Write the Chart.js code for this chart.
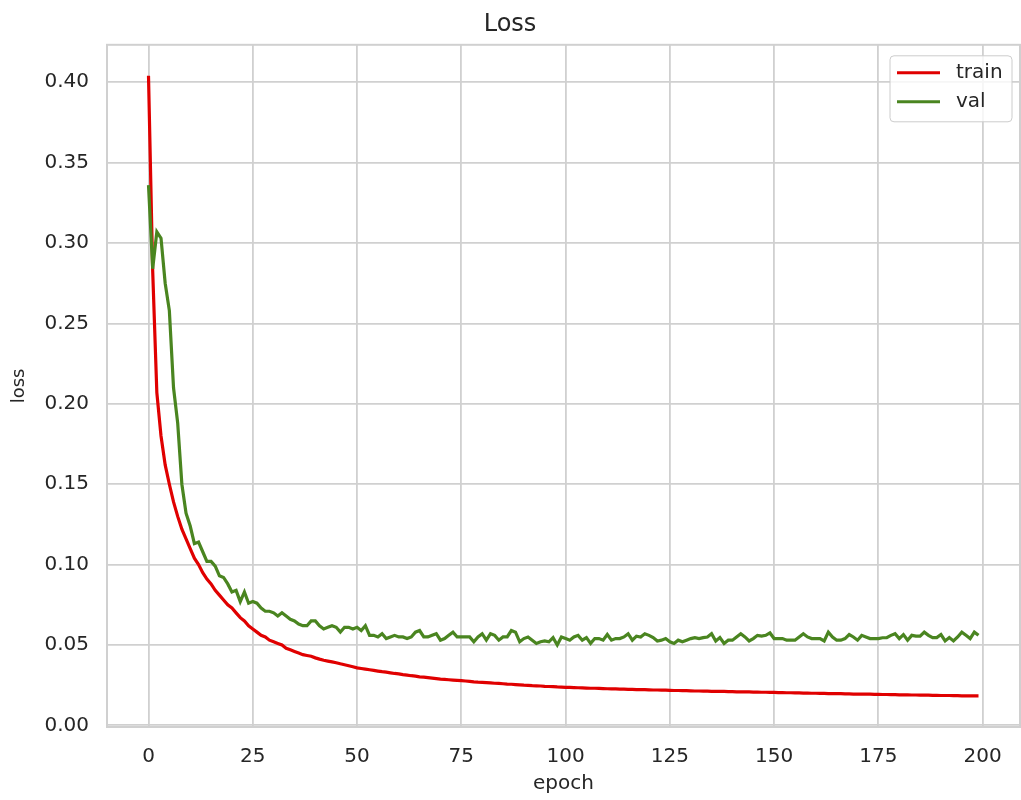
<!DOCTYPE html>
<html>
<head>
<meta charset="utf-8">
<script src="https://cdn.jsdelivr.net/npm/chart.js@4.4.1/dist/chart.umd.min.js"></script>
<style>
  html, body { margin: 0; padding: 0; background: #fff; }
  #wrap { width: 1021px; height: 800px; }
</style>
</head>
<body>
<div id="wrap"><canvas id="lossChart" width="1021" height="800"></canvas></div>
<script>
// Datos
const trainLoss = [
  0.404, 0.283, 0.207, 0.180, 0.162, 0.150, 0.139, 0.130, 0.122, 0.116,
  0.110, 0.104, 0.100, 0.095, 0.091, 0.088, 0.084, 0.081, 0.078, 0.075,
  0.073, 0.070, 0.067, 0.065, 0.062, 0.060, 0.058, 0.056, 0.055, 0.053,
  0.052, 0.051, 0.050, 0.048, 0.047, 0.046, 0.045, 0.044, 0.0435, 0.043,
  0.042, 0.0412, 0.0405, 0.040, 0.0395, 0.039, 0.0383, 0.0377, 0.0371, 0.0365,
  0.0358, 0.0354, 0.0350, 0.0346, 0.0342, 0.0338, 0.0334, 0.0331, 0.0327, 0.0323,
  0.0320, 0.0316, 0.0313, 0.0309, 0.0306, 0.0302, 0.0300, 0.0297, 0.0294, 0.0291,
  0.0288, 0.0286, 0.0284, 0.0282, 0.0280, 0.0278, 0.0276, 0.0274, 0.0271, 0.0269,
  0.0268, 0.0266, 0.0264, 0.0262, 0.0261, 0.0259, 0.0257, 0.0256, 0.0254, 0.0252,
  0.0250, 0.0249, 0.0247, 0.0246, 0.0245, 0.0243, 0.0242, 0.0241, 0.0239, 0.0238,
  0.0237, 0.0236, 0.0235, 0.0234, 0.0233, 0.0232, 0.0231, 0.0231, 0.0230, 0.0229,
  0.0228, 0.0227, 0.0227, 0.0226, 0.0225, 0.0224, 0.0224, 0.0223, 0.0222, 0.0222,
  0.0221, 0.0220, 0.0220, 0.0219, 0.0219, 0.0218, 0.0217, 0.0217, 0.0216, 0.0216,
  0.0215, 0.0214, 0.0214, 0.0213, 0.0213, 0.0212, 0.0212, 0.0211, 0.0211, 0.0210,
  0.0210, 0.0209, 0.0209, 0.0208, 0.0208, 0.0207, 0.0207, 0.0206, 0.0206, 0.0205,
  0.0205, 0.0204, 0.0204, 0.0203, 0.0203, 0.0202, 0.0202, 0.0201, 0.0201, 0.0200,
  0.0200, 0.0199, 0.0199, 0.0198, 0.0198, 0.0197, 0.0197, 0.0196, 0.0196, 0.0195,
  0.0195, 0.0195, 0.0194, 0.0194, 0.0193, 0.0193, 0.0192, 0.0192, 0.0191, 0.0191,
  0.0190, 0.0190, 0.0190, 0.0189, 0.0189, 0.0188, 0.0188, 0.0188, 0.0187, 0.0187,
  0.0186, 0.0186, 0.0186, 0.0185, 0.0185, 0.0184, 0.0184, 0.0184, 0.0183, 0.0183
];

const valLoss = [
  0.336, 0.284, 0.307, 0.303, 0.275, 0.258, 0.210, 0.188, 0.150, 0.132,
  0.124, 0.113, 0.114, 0.108, 0.102, 0.102, 0.099, 0.093, 0.092, 0.088,
  0.083, 0.084, 0.077, 0.083, 0.076, 0.077, 0.076, 0.073, 0.071, 0.071,
  0.070, 0.068, 0.070, 0.068, 0.066, 0.065, 0.063, 0.062, 0.062, 0.065,
  0.065, 0.062, 0.060, 0.061, 0.062, 0.061, 0.058, 0.061, 0.061, 0.060,
  0.061, 0.059, 0.062, 0.056, 0.056, 0.055, 0.057, 0.054, 0.055, 0.056,
  0.055, 0.055, 0.054, 0.055, 0.058, 0.059, 0.055, 0.055, 0.056, 0.057,
  0.053, 0.054, 0.056, 0.058, 0.055, 0.055, 0.055, 0.055, 0.052, 0.055,
  0.057, 0.053, 0.057, 0.056, 0.053, 0.055, 0.055, 0.059, 0.058, 0.052,
  0.054, 0.055, 0.053, 0.051, 0.052, 0.0525, 0.052, 0.0546, 0.050, 0.055,
  0.054, 0.053, 0.055, 0.056, 0.053, 0.0546, 0.051, 0.054, 0.054, 0.053,
  0.0565, 0.053, 0.054, 0.054, 0.055, 0.057, 0.053, 0.0555, 0.055, 0.057,
  0.056, 0.0546, 0.0525, 0.053, 0.054, 0.052, 0.051, 0.053, 0.052, 0.053,
  0.054, 0.0546, 0.054, 0.0546, 0.055, 0.057, 0.0525, 0.0546, 0.051, 0.053,
  0.053, 0.055, 0.057, 0.055, 0.0525, 0.054, 0.056, 0.0555, 0.056, 0.0575,
  0.054, 0.054, 0.054, 0.053, 0.053, 0.053, 0.055, 0.057, 0.055, 0.054,
  0.054, 0.054, 0.0525, 0.058, 0.055, 0.053, 0.053, 0.054, 0.0565, 0.055,
  0.053, 0.056, 0.055, 0.054, 0.054, 0.054, 0.0545, 0.0546, 0.056, 0.057,
  0.054, 0.0565, 0.053, 0.056, 0.0555, 0.0555, 0.058, 0.056, 0.0546, 0.0546,
  0.0565, 0.0525, 0.0546, 0.0525, 0.055, 0.058, 0.056, 0.054, 0.058, 0.056
];

const epochs = trainLoss.map((_, i) => i);
const xTicks = [0, 25, 50, 75, 100, 125, 150, 175, 200];
const yTicks = [0.00, 0.05, 0.10, 0.15, 0.20, 0.25, 0.30, 0.35, 0.40];

const FONT = "'DejaVu Sans', sans-serif";
const TEXT = "#262626";
const GRID = "#d0d0d0";

// Marco gris y leyenda dentro del area
const framePlugin = {
    id: "frame",
    beforeDatasetsDraw(chart) {
        const { ctx, chartArea: a } = chart;
        ctx.save();
        ctx.strokeStyle = GRID;
        ctx.lineWidth = 2;
        ctx.strokeRect(a.left, a.top, a.right - a.left, a.bottom - a.top);
        ctx.restore();
    },
    afterDraw(chart) {
        const { ctx, chartArea: a } = chart;
        const w = 122, h = 66;
        const x = a.right - 8 - w, y = a.top + 11;
        ctx.save();
        ctx.beginPath();
        ctx.roundRect(x, y, w, h, 4);
        ctx.fillStyle = "rgba(255,255,255,0.8)";
        ctx.fill();
        ctx.strokeStyle = "#cccccc";
        ctx.lineWidth = 1;
        ctx.stroke();
        ctx.font = "20px " + FONT;
        ctx.textBaseline = "middle";
        chart.data.datasets.forEach((ds, i) => {
            const ly = y + 17 + i * 29;
            ctx.strokeStyle = ds.borderColor;
            ctx.lineWidth = 3;
            ctx.beginPath();
            ctx.moveTo(x + 7, ly);
            ctx.lineTo(x + 50, ly);
            ctx.stroke();
            ctx.fillStyle = TEXT;
            ctx.fillText(ds.label, x + 66, ly);
        });
        ctx.restore();
    }
};

const ctx = document.getElementById("lossChart").getContext("2d");
const chart = new Chart(ctx, {
    type: "line",
    data: {
        datasets: [{
            label: "train",
            data: epochs.map(e => ({ x: e, y: trainLoss[e] })),
            borderColor: "#e00000",
            borderWidth: 3.2,
            pointRadius: 0,
            tension: 0,
            order: 1
        }, {
            label: "val",
            data: epochs.map(e => ({ x: e, y: valLoss[e] })),
            borderColor: "#4a8520",
            borderWidth: 3.2,
            pointRadius: 0,
            tension: 0,
            order: 0
        }]
    },
    options: {
        responsive: false,
        animation: false,
        layout: { padding: { left: 0, right: 1, top: 0, bottom: 0 } },
        plugins: {
            legend: { display: false },
            tooltip: { enabled: false },
            title: {
                display: true,
                text: "Loss",
                color: TEXT,
                font: { family: FONT, size: 24, weight: "normal" },
                padding: { top: 10, bottom: 6 }
            }
        },
        scales: {
            x: {
                type: "linear",
                min: -9.95,
                max: 208.95,
                afterBuildTicks: s => { s.ticks = xTicks.map(v => ({ value: v })); },
                afterFit: s => { s.height = 73; },
                grid: { color: GRID, lineWidth: 1.8, drawTicks: false },
                border: { display: false },
                ticks: {
                    color: TEXT,
                    padding: 18,
                    font: { family: FONT, size: 20 },
                    maxRotation: 0,
                    callback: v => String(v)
                },
                title: {
                    display: true,
                    text: "epoch",
                    color: TEXT,
                    font: { family: FONT, size: 20 },
                    padding: { top: 0, bottom: 4 }
                }
            },
            y: {
                type: "linear",
                min: -0.001,
                max: 0.4233,
                afterBuildTicks: s => { s.ticks = yTicks.map(v => ({ value: v })); },
                afterFit: s => { s.width = 107; },
                grid: { color: GRID, lineWidth: 1.8, drawTicks: false },
                border: { display: false },
                ticks: {
                    color: TEXT,
                    padding: 18,
                    font: { family: FONT, size: 20 },
                    callback: v => v.toFixed(2)
                },
                title: {
                    display: true,
                    text: "loss",
                    color: TEXT,
                    font: { family: FONT, size: 18 },
                    padding: { top: 9, bottom: 0 }
                }
            }
        }
    },
    plugins: [framePlugin]
});
</script>
</body>
</html>
